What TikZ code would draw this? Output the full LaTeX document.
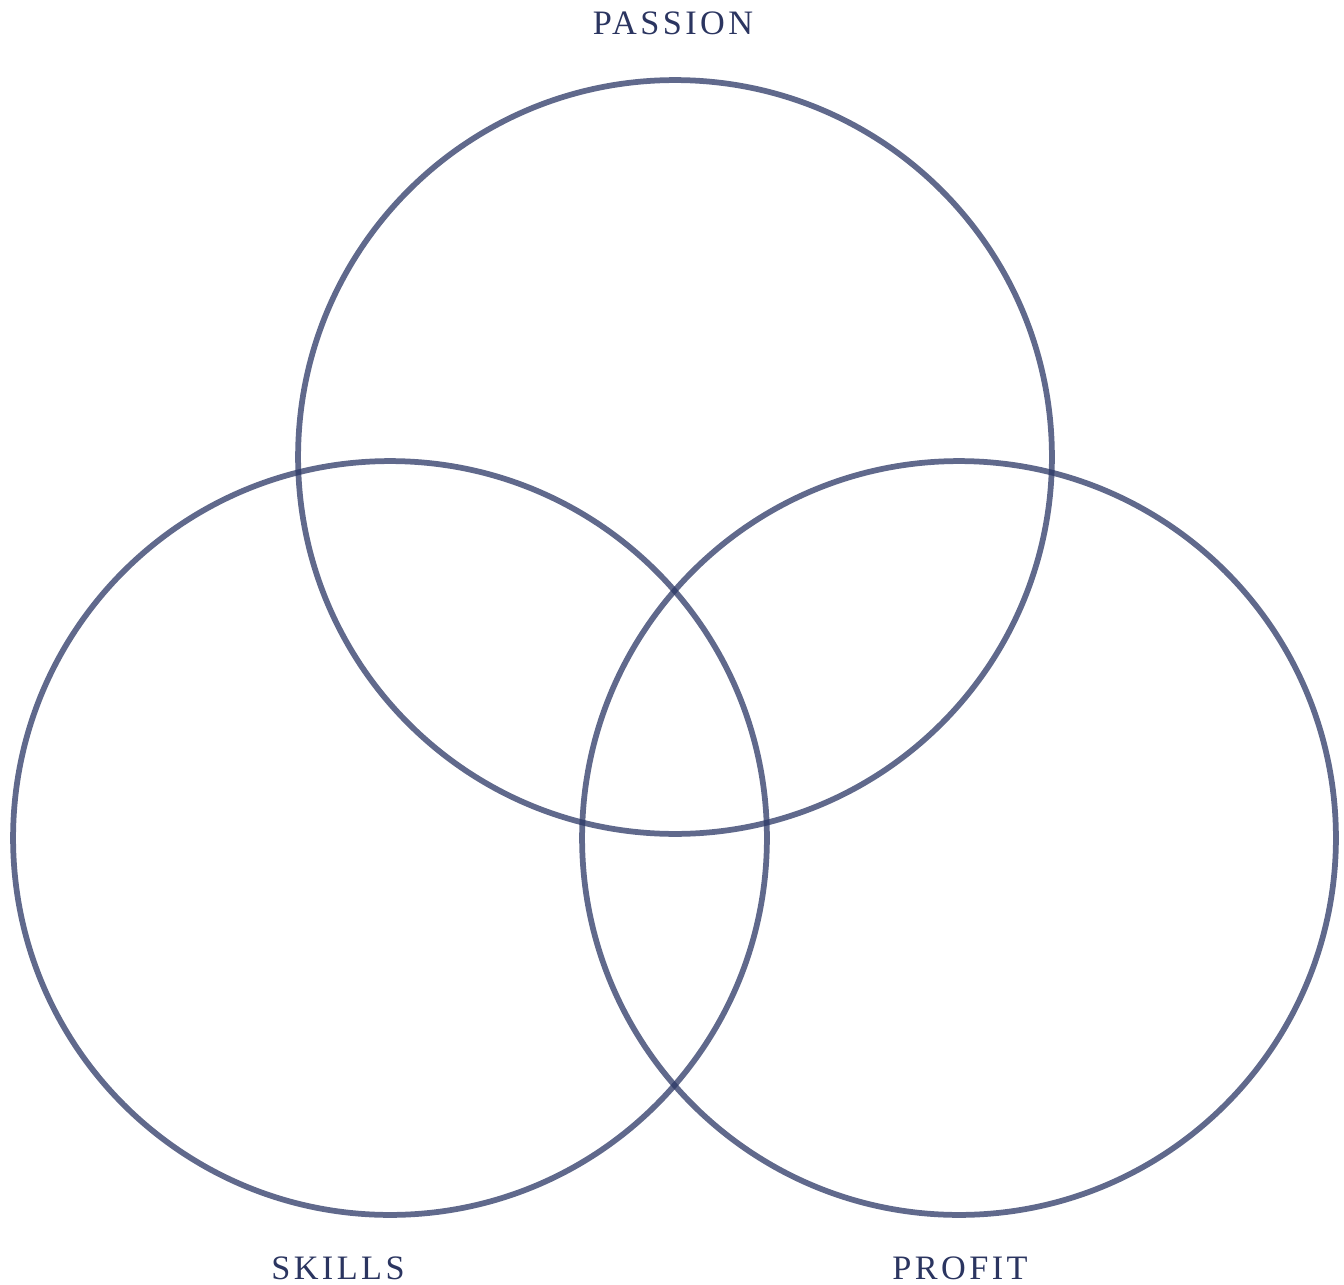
\documentclass[tikz,border=0pt]{standalone}
\usepackage{fontspec}
\setmainfont{Liberation Serif}
\newfontfamily\labelfont[LetterSpace=10]{Liberation Serif}
\definecolor{ringInk}{HTML}{2B3765}
\definecolor{labelInk}{HTML}{2B3560}

\begin{document}
\begin{tikzpicture}[
  x=0.02cm, y=-0.02cm,
  ring/.style={draw=ringInk, draw opacity=0.75, line width=0.115cm},
  lbl/.style={font=\labelfont\fontsize{19.5}{22}\selectfont, text=labelInk, inner sep=0pt, anchor=center},
]
\useasboundingbox (0,0) rectangle (1344,1284);

% =============================== rings =====================================
\node[ring, circle, minimum size=15.08cm, inner sep=0pt] (passion) at (675,457) {};
\node[ring, circle, minimum size=15.08cm, inner sep=0pt] (skills)  at (390,838) {};
\node[ring, circle, minimum size=15.08cm, inner sep=0pt] (profit)  at (959,838) {};

% =============================== labels ====================================
\node[lbl] (passionLbl) at (673,23)   {PASSION};
\node[lbl] (skillsLbl)  at (338,1268) {SKILLS};
\node[lbl] (profitLbl)  at (960,1268) {PROFIT};

\end{tikzpicture}
\end{document}
